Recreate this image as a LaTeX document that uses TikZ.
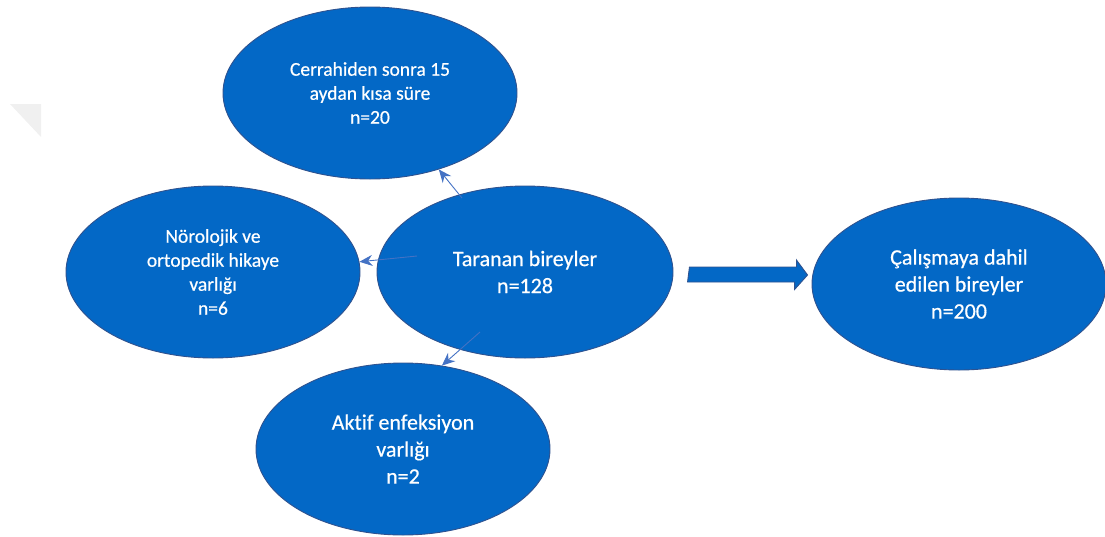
\documentclass[tikz,border=0pt]{standalone}
\usepackage{fontspec}
\setmainfont{Carlito}[Ligatures=NoCommon]
\newfontfamily\bubfont{Carlito}[Ligatures=NoCommon,FakeBold=0.6]
\usetikzlibrary{arrows.meta,calc,shapes.geometric}
\definecolor{ellfill}{RGB}{3,104,198}
\definecolor{ellborder}{RGB}{47,82,143}
\definecolor{arrowblue}{RGB}{68,114,196}
\definecolor{triggray}{RGB}{240,240,240}
\tikzset{
  bubble/.style={ellipse, draw=ellborder, line width=0.9pt, fill=ellfill,
    minimum width=294pt, minimum height=172pt, inner sep=0pt,
    text=white, align=center},
  smalltxt/.style={font=\bubfont\fontsize{19.5}{24}\selectfont},
  bigtxt/.style={font=\bubfont\fontsize{22}{27}\selectfont},
  thinarrow/.style={draw=arrowblue, line width=0.9pt,
    -{Stealth[length=13pt,width=11pt,fill=arrowblue]}},
  blockarrow/.style={fill=ellfill, draw=ellborder, line width=0.9pt, line join=miter}
}
\begin{document}
\begin{tikzpicture}[x=1pt,y=-1pt]
\useasboundingbox (0,0) rectangle (1105,536);
\fill[triggray] (10,104) -- (41,104) -- (41,137) -- cycle;

\node[bubble,smalltxt] (top) at (370,93) {Cerrahiden sonra 15\\aydan kısa süre\\n=20};
\node[bubble,smalltxt] (left) at (213,272) {Nörolojik ve\\ortopedik hikaye\\varlığı\\n=6};
\node[bubble,bigtxt] (bot) at (403,449) {Aktif enfeksiyon\\varlığı\\n=2};
\node[bubble,bigtxt,minimum width=296pt] (c) at (525,272) {Taranan bireyler\\n=128};
\node[bubble,bigtxt] (r) at (959,284) {Çalışmaya dahil\\edilen bireyler\\n=200};

\coordinate (t1) at ($(c.center)+(-63,-74)$);
\coordinate (t2) at ($(c.center)+(-108,-16)$);
\coordinate (t3) at ($(c.center)+(-45,60)$);
\draw[thinarrow] (t1) -- (top.-48);
\draw[thinarrow] (t2) -- (left.4);
\draw[thinarrow] (t3) -- (bot.65);

\draw[blockarrow] ($(c.east)+(16,-5)$) -- ++(107,0) -- ++(0,-7) -- ($(r.west)+(-4,-9)$)
  -- ++(-13,14.5) -- ++(0,-7.5) -- ++(-107,0) -- cycle;
\end{tikzpicture}
\end{document}
